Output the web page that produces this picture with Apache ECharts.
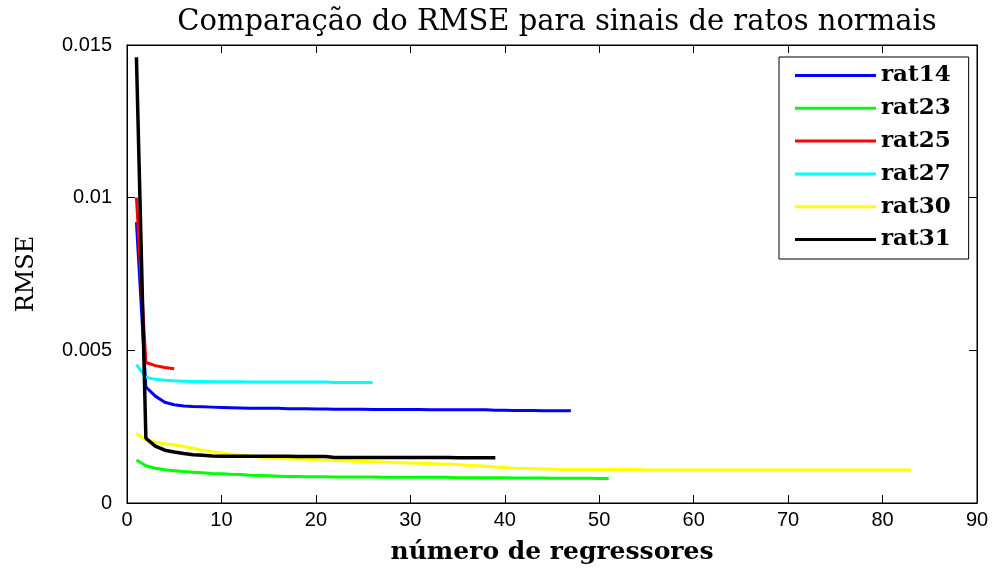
<!DOCTYPE html>
<html>
<head>
<meta charset="utf-8">
<script src="https://cdn.jsdelivr.net/npm/echarts@6/dist/echarts.min.js"></script>
<style>
  html, body { margin: 0; padding: 0; background: #fff; }
  #chart { width: 995px; height: 570px; }
</style>
</head>
<body>
<div id="chart"></div>
<script>
// RMSE per number of regressors (x = 1..n) for each normal rat signal
const rat14 = [0.0092, 0.0038, 0.0035, 0.0033, 0.00322, 0.00318, 0.00316, 0.00315, 0.00314, 0.00313,
  0.00312, 0.00311, 0.0031, 0.0031, 0.0031, 0.0031, 0.00309, 0.00309, 0.00309, 0.00308,
  0.00308, 0.00307, 0.00307, 0.00307, 0.00307, 0.00306, 0.00306, 0.00306, 0.00306, 0.00306,
  0.00306, 0.00305, 0.00305, 0.00305, 0.00305, 0.00305, 0.00305, 0.00305, 0.00304, 0.00304,
  0.00303, 0.00303, 0.00303, 0.00302, 0.00302, 0.00302, 0.00302];
const rat23 = [0.00141, 0.00122, 0.00114, 0.00109, 0.00106, 0.00103, 0.00101, 0.00099, 0.00097, 0.00096,
  0.00094, 0.00093, 0.00091, 0.0009, 0.00089, 0.00088, 0.00087, 0.00087, 0.00086, 0.00086,
  0.00086, 0.00085, 0.00085, 0.00085, 0.00085, 0.00085, 0.00084, 0.00084, 0.00084, 0.00084,
  0.00084, 0.00084, 0.00084, 0.00084, 0.00083, 0.00083, 0.00083, 0.00083, 0.00083, 0.00083,
  0.00082, 0.00082, 0.00082, 0.00082, 0.00081, 0.00081, 0.00081, 0.00081, 0.00081, 0.0008,
  0.0008];
const rat25 = [0.0100, 0.0046, 0.0045, 0.00444, 0.0044];
const rat27 = [0.00453, 0.00412, 0.00405, 0.00402, 0.004, 0.00399, 0.00398, 0.00398, 0.00397, 0.00397,
  0.00397, 0.00397, 0.00396, 0.00396, 0.00396, 0.00396, 0.00396, 0.00396, 0.00396, 0.00396,
  0.00396, 0.00395, 0.00395, 0.00395, 0.00395, 0.00395];
const rat30 = [0.00228, 0.00206, 0.00199, 0.00194, 0.0019, 0.00185, 0.00179, 0.00173, 0.00168, 0.00164,
  0.0016, 0.00157, 0.00154, 0.00151, 0.00148, 0.00146, 0.00145, 0.00144, 0.00143, 0.00142,
  0.0014, 0.00139, 0.00138, 0.00137, 0.00136, 0.00135, 0.00134, 0.00133, 0.00132, 0.00131,
  0.0013, 0.00129, 0.00128, 0.00127, 0.00126, 0.00124, 0.00122, 0.0012, 0.00118, 0.00116,
  0.00114, 0.00113, 0.00112, 0.00111, 0.00111, 0.0011, 0.0011, 0.0011, 0.0011, 0.0011,
  0.0011, 0.0011, 0.0011, 0.0011, 0.00108, 0.00108, 0.00108, 0.00108, 0.00108, 0.00108,
  0.00108, 0.00108, 0.00108, 0.00108, 0.00108, 0.00108, 0.00108, 0.00108, 0.00108, 0.00108,
  0.00108, 0.00108, 0.00108, 0.00108, 0.00108, 0.00108, 0.00108, 0.00108, 0.00108, 0.00108,
  0.00108, 0.00108, 0.00108];
const rat31 = [0.0146, 0.00212, 0.00186, 0.00173, 0.00167, 0.00162, 0.00158, 0.00156, 0.00154, 0.00153,
  0.00153, 0.00153, 0.00153, 0.00153, 0.00153, 0.00153, 0.00153, 0.00152, 0.00152, 0.00152,
  0.00152, 0.00149, 0.00149, 0.00149, 0.00149, 0.00149, 0.00149, 0.00149, 0.00149, 0.00149,
  0.00149, 0.00149, 0.00149, 0.00149, 0.00148, 0.00148, 0.00148, 0.00148, 0.00148];

const seriesNames = ['rat14', 'rat23', 'rat25', 'rat27', 'rat30', 'rat31'];
const seriesValues = [rat14, rat23, rat25, rat27, rat30, rat31];
const seriesColors = ['#0000ff', '#00ff00', '#ff0000', '#00ffff', '#ffff00', '#000000'];

const titleText = 'Comparação do RMSE para sinais de ratos normais';
const xName = 'número de regressores';
const yName = 'RMSE';

const chart = echarts.init(document.getElementById('chart'));

const tickFont = { color: '#000', fontFamily: 'Liberation Sans', fontSize: 20 };

function frameAxis(base, extra) {
  return Object.assign({
    axisLine: { show: true, onZero: false, lineStyle: { color: '#000', width: 1 } },
    axisTick: { show: true, inside: true, length: 8, lineStyle: { color: '#000', width: 1 } },
    splitLine: { show: false }
  }, base, extra);
}

chart.setOption({
  animation: false,
  backgroundColor: '#fff',
  title: {
    text: titleText,
    left: 552,
    top: 3,
    textAlign: 'center',
    textStyle: { fontFamily: 'DejaVu Serif', fontWeight: 'normal', fontSize: 29, color: '#000' }
  },
  grid: { left: 127, right: 18, top: 45, bottom: 59, show: true, borderColor: '#000', borderWidth: 1, containLabel: false },
  legend: {
    orient: 'vertical',
    left: 779,
    top: 57,
    data: seriesNames,
    icon: 'rect',
    itemWidth: 81,
    itemHeight: 3,
    itemGap: 7.8,
    padding: [6, 18, 7, 16],
    borderColor: '#000',
    borderWidth: 1,
    backgroundColor: '#fff',
    textStyle: { fontFamily: 'DejaVu Serif', fontWeight: 'bold', fontSize: 23, color: '#000', lineHeight: 25 }
  },
  xAxis: [
    frameAxis({ type: 'value', min: 0, max: 90, interval: 10, position: 'bottom' }, {
      axisLabel: Object.assign({ margin: 7 }, tickFont),
      name: xName,
      nameLocation: 'middle',
      nameGap: 37,
      nameTextStyle: { fontFamily: 'DejaVu Serif', fontWeight: 'bold', fontSize: 25, color: '#000' }
    }),
    frameAxis({ type: 'value', min: 0, max: 90, interval: 10, position: 'top' }, { axisLabel: { show: false } })
  ],
  yAxis: [
    frameAxis({ type: 'value', min: 0, max: 0.015, interval: 0.005, position: 'left' }, {
      axisLabel: Object.assign({ margin: 15 }, tickFont),
      name: yName,
      nameLocation: 'middle',
      nameGap: 88,
      nameTextStyle: { fontFamily: 'DejaVu Serif', fontWeight: 'normal', fontSize: 24, color: '#000' }
    }),
    frameAxis({ type: 'value', min: 0, max: 0.015, interval: 0.005, position: 'right' }, { axisLabel: { show: false } })
  ],
  series: seriesNames.map((name, i) => ({
    name: name,
    type: 'line',
    xAxisIndex: 0,
    yAxisIndex: 0,
    data: seriesValues[i].map((v, k) => [k + 1, v]),
    showSymbol: false,
    symbol: 'none',
    color: seriesColors[i],
    lineStyle: { color: seriesColors[i], width: i === 5 ? 3.5 : 3 },
    emphasis: { disabled: true },
    clip: true
  }))
});
</script>
</body>
</html>
